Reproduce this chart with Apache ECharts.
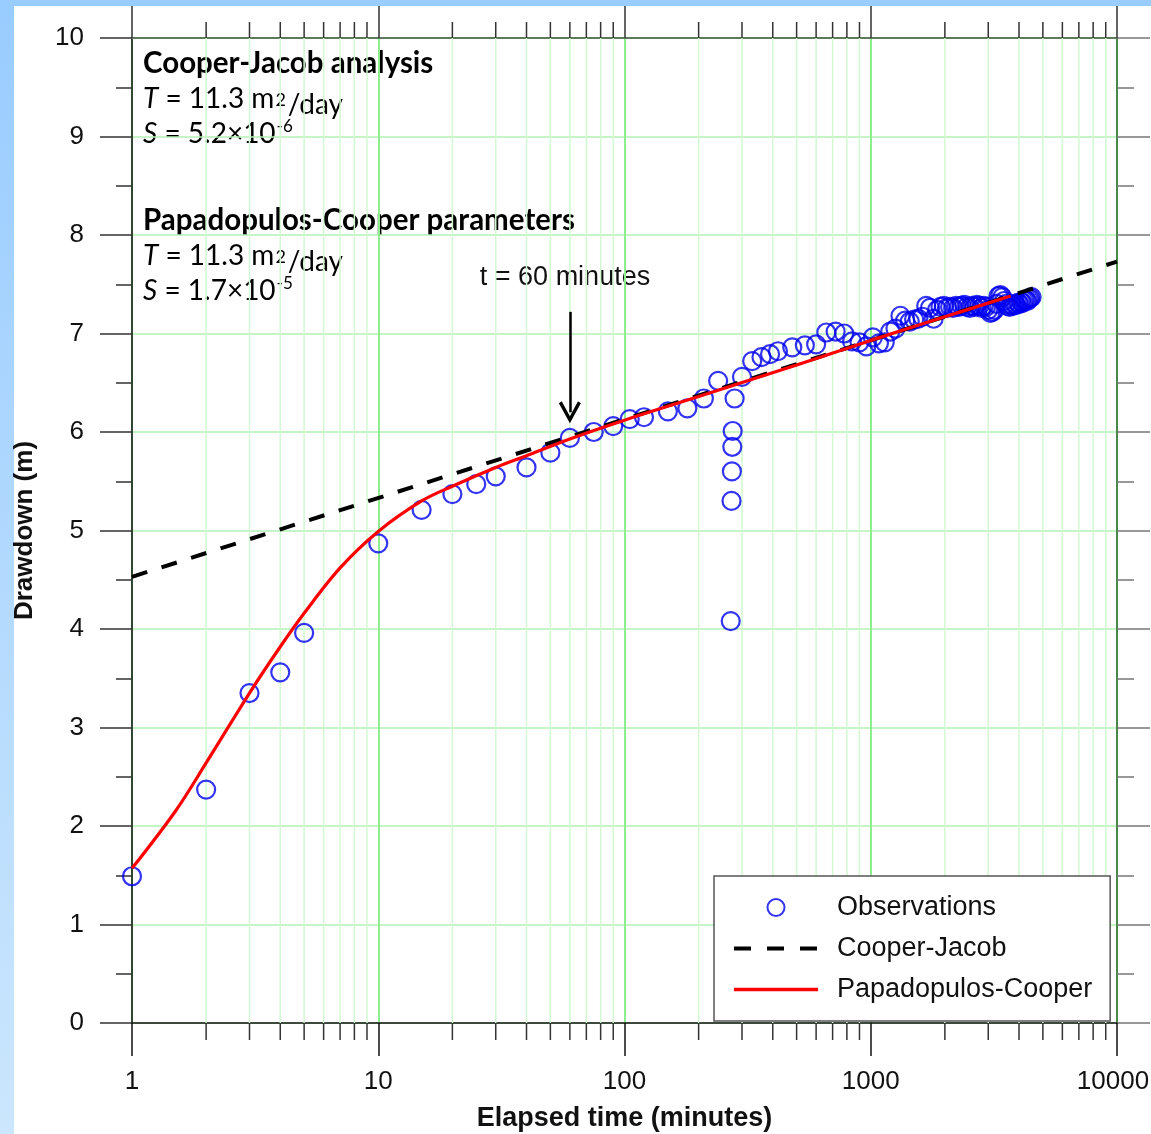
<!DOCTYPE html>
<html>
<head>
<meta charset="utf-8">
<title>Drawdown vs elapsed time</title>
<script src="https://cdn.jsdelivr.net/npm/echarts@6.0.0/dist/echarts.min.js"></script>
<style>
  html, body { margin: 0; padding: 0; background: #fff; }
  #chart { width: 1151px; height: 1134px; }
</style>
</head>
<body>
<div id="chart"></div>
<script>
// Observed drawdown (m) against elapsed time (minutes)
const obsTime = [
  1, 2, 3, 4, 5, 10, 15, 20, 25, 30, 40, 50, 60, 75, 90, 105, 120, 150, 180, 210, 240,
  270, 272, 273, 274, 275, 280,
  300, 330, 360, 390, 420, 480, 540, 600, 660, 720, 780, 840, 900, 960, 1020,
  1080, 1140, 1200, 1260, 1320, 1380, 1440, 1500, 1560, 1620, 1680, 1740, 1800,
  1860, 1920, 1980, 2040, 2100, 2160, 2220, 2280, 2340, 2400, 2460, 2520, 2580,
  2640, 2700, 2760, 2820, 2880, 2940, 3000, 3060, 3120, 3180, 3240, 3300, 3360,
  3420, 3480, 3540, 3600, 3660, 3720, 3780, 3840, 3900, 3960, 4020, 4080, 4140,
  4200, 4260, 4320, 4380, 4440, 4500
];
const obsDrawdown = [
  1.49, 2.37, 3.35, 3.56, 3.96, 4.87, 5.21, 5.37, 5.47, 5.55, 5.64, 5.79, 5.94, 6.00, 6.06, 6.13, 6.15, 6.21, 6.24, 6.34, 6.52,
  4.08, 5.30, 5.60, 5.85, 6.01, 6.34,
  6.56, 6.72, 6.76, 6.79, 6.82, 6.86, 6.88, 6.89, 7.01, 7.02, 7.00, 6.92, 6.91, 6.87, 6.96,
  6.90, 6.91, 7.02, 7.05, 7.18, 7.13, 7.12, 7.14, 7.15, 7.17, 7.28, 7.26, 7.15,
  7.24, 7.27, 7.28, 7.26, 7.27, 7.26, 7.28, 7.27, 7.28, 7.29, 7.27, 7.26, 7.28,
  7.27, 7.29, 7.28, 7.26, 7.28, 7.27, 7.24, 7.21, 7.22, 7.24, 7.30, 7.38, 7.39,
  7.37, 7.33, 7.30, 7.28, 7.27, 7.29, 7.28, 7.30, 7.29, 7.31, 7.30, 7.32, 7.31,
  7.33, 7.34, 7.33, 7.35, 7.36, 7.37
];

// Cooper-Jacob straight line (end points)
const cjTime = [1, 10000];
const cjDrawdown = [4.53, 7.73];

// Papadopulos-Cooper type curve
const pcTime = [1, 1.5, 2, 3, 4, 5, 7, 10, 15, 20, 30, 40, 60, 100, 200, 500, 1000, 2000, 3700];
const pcDrawdown = [1.57, 2.15, 2.64, 3.35, 3.82, 4.16, 4.62, 4.99, 5.30, 5.45, 5.64, 5.76, 5.93, 6.12, 6.36, 6.68, 6.93, 7.17, 7.38];

// Arrow marking t = 60 minutes
const arrowTime = 60;
const arrowFrom = 7.22;
const arrowTo = 6.2;

// Axis ranges and minor (log) tick values
const xMin = 1, xMax = 10000;
const yMin = 0, yMax = 10, yStep = 1;
const minorTimes = [
  2, 3, 4, 5, 6, 7, 8, 9,
  20, 30, 40, 50, 60, 70, 80, 90,
  200, 300, 400, 500, 600, 700, 800, 900,
  2000, 3000, 4000, 5000, 6000, 7000, 8000, 9000
];

const pair = (xs, ys) => xs.map((x, i) => [x, ys[i]]);

const chart = echarts.init(document.getElementById('chart'), null, { renderer: 'canvas' });

const SANS = 'Liberation Sans';
const LATO = 'Lato';

const richBase = {
  r: { fontFamily: LATO, fontSize: 28, lineHeight: 28, verticalAlign: 'top', fill: '#000' },
  i: { fontFamily: LATO, fontSize: 28, lineHeight: 28, fontStyle: 'italic', verticalAlign: 'top', fill: '#000' },
  s2: { fontFamily: LATO, fontSize: 18, lineHeight: 18, verticalAlign: 'top', padding: [6, 0, 0, 1], fill: '#000' },
  d: { fontFamily: LATO, fontSize: 28, lineHeight: 28, verticalAlign: 'top', padding: [6, 0, 0, 2], fill: '#000' },
  e: { fontFamily: LATO, fontSize: 17, lineHeight: 17, verticalAlign: 'top', padding: [-2, 0, 0, 1], fill: '#000' }
};

function tLine(y) {
  return {
    type: 'text', x: 143, y: y, silent: true,
    style: { text: '{i|T}{r| = 11.3 m}{s2|2}{d|/day}', rich: richBase, verticalAlign: 'top' }
  };
}
function sLine(y, mant, exp) {
  return {
    type: 'text', x: 143, y: y, silent: true,
    style: { text: '{i|S}{r| = ' + mant + '×10}{e|' + exp + '}', rich: richBase, verticalAlign: 'top' }
  };
}

const option = {
  animation: false,
  backgroundColor: '#ffffff',
  grid: { left: 132, right: 34, top: 38, bottom: 111, containLabel: false, outerBoundsMode: 'none' },
  xAxis: [
    {
      type: 'log', logBase: 10, min: xMin, max: xMax, position: 'bottom',
      name: 'Elapsed time (minutes)', nameLocation: 'middle', nameGap: 82,
      nameTextStyle: { fontFamily: SANS, fontSize: 27, fontWeight: 'bold', color: '#111' },
      axisLine: { show: true, onZero: false, lineStyle: { color: '#111', width: 1.5 } },
      axisTick: { show: true, length: 33, lineStyle: { color: '#111', width: 1.5 } },
      axisLabel: {
        fontFamily: SANS, fontSize: 26, color: '#111', margin: 46,
        formatter: v => (v >= xMax ? '{last|' + v + '}' : String(v)),
        rich: { last: { fontFamily: SANS, fontSize: 26, color: '#111', padding: [0, 8, 0, 0] } }
      },
      splitLine: { show: true, lineStyle: { color: '#8eed8e', width: 2 } }
    },
    {
      type: 'log', logBase: 10, min: xMin, max: xMax, position: 'top',
      axisLine: { show: true, onZero: false, lineStyle: { color: '#5b7b5b', width: 2 } },
      axisTick: { show: true, length: 32, lineStyle: { color: '#333', width: 1.5 } },
      axisLabel: { show: false },
      splitLine: { show: false }
    }
  ],
  yAxis: [
    {
      type: 'value', min: yMin, max: yMax, interval: yStep, position: 'left',
      name: 'Drawdown (m)', nameLocation: 'middle', nameGap: 94, nameRotate: 90,
      nameTextStyle: { fontFamily: SANS, fontSize: 26, fontWeight: 'bold', color: '#111' },
      axisLine: { show: true, onZero: false, lineStyle: { color: '#111', width: 1.5 } },
      axisTick: { show: true, length: 32, lineStyle: { color: '#333', width: 1.5 } },
      minorTick: { show: true, splitNumber: 2, length: 16, lineStyle: { color: '#333', width: 1.5 } },
      axisLabel: { fontFamily: SANS, fontSize: 26, color: '#111', margin: 48 },
      splitLine: { show: true, lineStyle: { color: '#b2f2b2', width: 1.5 } }
    },
    {
      type: 'value', min: yMin, max: yMax, interval: yStep, position: 'right',
      axisLine: { show: true, onZero: false, lineStyle: { color: '#468a46', width: 2 } },
      axisTick: { show: true, length: 33, lineStyle: { color: '#777', width: 1.5 } },
      minorTick: { show: true, splitNumber: 2, length: 17, lineStyle: { color: '#777', width: 1.5 } },
      axisLabel: { show: false },
      splitLine: { show: false }
    }
  ],
  legend: {
    orient: 'vertical', left: 714, top: 876,
    padding: [18, 18, 18, 18],
    itemWidth: 84, itemHeight: 17, itemGap: 14,
    backgroundColor: '#ffffff', borderColor: '#555', borderWidth: 1.5, borderRadius: 0,
    selectedMode: false,
    textStyle: { fontFamily: SANS, fontSize: 27, color: '#111', lineHeight: 26, padding: [0, 0, 0, 14] },
    data: [
      'Observations',
      { name: 'Cooper-Jacob', itemStyle: { opacity: 0 }, lineStyle: { width: 4, type: [17, 16], color: '#000' } },
      { name: 'Papadopulos-Cooper', itemStyle: { opacity: 0 }, lineStyle: { width: 3.5, color: '#ff0000' } }
    ]
  },
  graphic: [
    // light blue frame along the top and left edges
    { type: 'rect', left: 0, top: 0, z: -10, silent: true, shape: { width: 1151, height: 6 }, style: { fill: '#99ccff' } },
    {
      type: 'rect', left: 0, top: 0, z: -10, silent: true, shape: { width: 14, height: 1134 },
      style: { fill: new echarts.graphic.LinearGradient(0, 0, 0, 1, [
        { offset: 0, color: '#99ccff' }, { offset: 1, color: '#cbe6fd' }
      ]) }
    },
    {
      type: 'text', x: 143, y: 63, silent: true,
      style: { text: 'Cooper-Jacob analysis', font: 'bold 29.5px Lato', fill: '#000', verticalAlign: 'middle' }
    },
    tLine(85),
    sLine(120, '5.2', '-6'),
    {
      type: 'text', x: 143, y: 220, silent: true,
      style: { text: 'Papadopulos-Cooper parameters', font: 'bold 29.5px Lato', fill: '#000', verticalAlign: 'middle' }
    },
    tLine(242),
    sLine(277, '1.7', '-5'),
    {
      type: 'text', x: 565, y: 278, silent: true,
      style: { text: 't = 60 minutes', font: '27px "Liberation Sans"', fill: '#111', align: 'center', verticalAlign: 'middle' }
    }
  ],
  series: [
    {
      // minor log grid lines and minor ticks on the top and bottom axes
      type: 'custom', name: 'minor-grid', xAxisIndex: 0, yAxisIndex: 0, z: 1, silent: true,
      data: minorTimes.map(v => [v, yMin]),
      renderItem: function (params, api) {
        const t = api.value(0);
        const b = api.coord([t, yMin]);
        const tp = api.coord([t, yMax]);
        return {
          type: 'group',
          children: [
            { type: 'line', shape: { x1: b[0], y1: b[1], x2: tp[0], y2: tp[1] }, style: { stroke: '#d3f9d3', lineWidth: 1.5 } },
            { type: 'line', shape: { x1: b[0], y1: b[1], x2: b[0], y2: b[1] + 17 }, style: { stroke: '#333', lineWidth: 1.5 } },
            { type: 'line', shape: { x1: tp[0], y1: tp[1], x2: tp[0], y2: tp[1] - 16 }, style: { stroke: '#333', lineWidth: 1.5 } }
          ]
        };
      }
    },
    {
      name: 'Observations', type: 'scatter', xAxisIndex: 0, yAxisIndex: 0,
      symbol: 'circle', symbolSize: 18,
      itemStyle: { color: 'rgba(0,0,0,0)', borderColor: '#0000f0', borderWidth: 2.2 },
      data: pair(obsTime, obsDrawdown)
    },
    {
      name: 'Cooper-Jacob', type: 'line', xAxisIndex: 0, yAxisIndex: 0,
      symbol: 'none', showSymbol: false,
      lineStyle: { color: '#000', width: 4, type: [16, 15], cap: 'butt' },
      itemStyle: { color: '#000', opacity: 0 },
      data: pair(cjTime, cjDrawdown)
    },
    {
      name: 'Papadopulos-Cooper', type: 'line', xAxisIndex: 0, yAxisIndex: 0,
      symbol: 'none', showSymbol: false, smooth: 0.35,
      lineStyle: { color: '#ff0000', width: 3.2 },
      itemStyle: { color: '#ff0000', opacity: 0 },
      data: pair(pcTime, pcDrawdown)
    },
    {
      name: 'arrow', type: 'line', xAxisIndex: 0, yAxisIndex: 0, data: [], silent: true,
      markLine: {
        silent: true, animation: false,
        symbol: ['none', 'path://M10,0 L20,16 L17.4,17.6 L10,5.6 L2.6,17.6 L0,16 Z'],
        symbolSize: [22, 22],
        label: { show: false },
        lineStyle: { color: '#000', width: 2.5, type: 'solid' },
        data: [[{ coord: [arrowTime, arrowFrom] }, { coord: [arrowTime, arrowTo] }]]
      }
    }
  ]
};

chart.setOption(option);
</script>
</body>
</html>
